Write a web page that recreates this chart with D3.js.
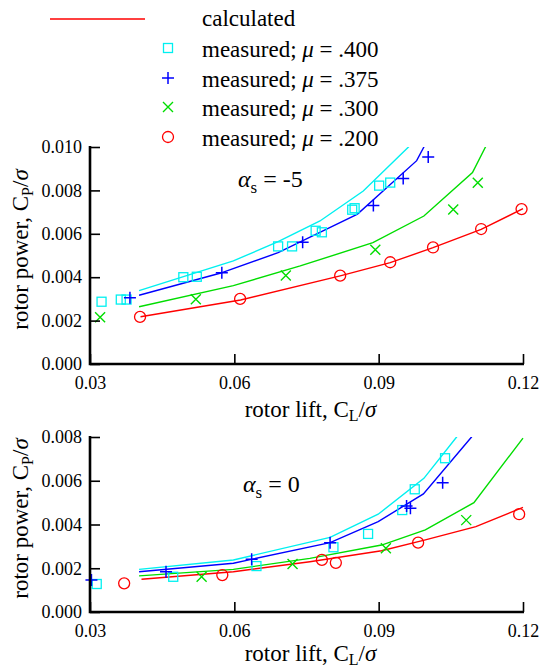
<html>
   <head>
      <meta charset="UTF-8">
      <title>Rotor power vs lift</title>
      <script src="https://d3js.org/d3.v7.min.js"></script>
      <style>
         body{
         margin: 0;
         background: #fff;
         }
         svg{
         display: block;
         font-family: "Liberation Serif", "DejaVu Serif", serif;
         }
      </style>
   </head>
   <body>
      <svg width="542" height="670"></svg>
      <script type="text/javascript">
         // series labels and colours
         var muLabels = [".400", ".375", ".300", ".200"];
         var colors = ["#00f0f0", "#0000ff", "#00dd00", "#ff0000"];
         var shapes = ["square", "plus", "cross", "circle"];

         var xTicks = [0.03, 0.06, 0.09, 0.12];
         var yTicksTop = [0, 0.002, 0.004, 0.006, 0.008, 0.010];
         var yTicksBot = [0, 0.002, 0.004, 0.006, 0.008];

         // alpha_s = -5 : measured
         var top400 = [[0.0324,0.00287],[0.0364,0.00297],[0.0376,0.00297],[0.0494,0.00400],[0.0522,0.00402],
                       [0.0691,0.00542],[0.0720,0.00542],[0.0769,0.00614],[0.0782,0.00607],[0.0845,0.00711],
                       [0.0850,0.00718],[0.0901,0.00822],[0.0924,0.00836]];
         var top375 = [[0.0383,0.00305],[0.0574,0.00420],[0.0742,0.00561],[0.0889,0.00730],[0.0951,0.00855],[0.1003,0.00954]];
         var top300 = [[0.0321,0.00215],[0.0520,0.00298],[0.0707,0.00408],[0.0893,0.00527],[0.1055,0.00712],[0.1106,0.00835]];
         var top200 = [[0.0404,0.00217],[0.0612,0.00300],[0.0820,0.00407],[0.0924,0.00469],[0.1013,0.00537],[0.1113,0.00622],[0.1197,0.00714]];

         // alpha_s = -5 : calculated
         var topCalc400 = [[0.0402,0.00338],[0.0598,0.00475],[0.0691,0.00564],[0.0778,0.00659],[0.0868,0.00797],[0.0962,0.01000],[0.0975,0.01030]];
         var topCalc375 = [[0.0402,0.00317],[0.0570,0.00418],[0.0691,0.00513],[0.0856,0.00691],[0.0979,0.00937],[0.0994,0.01000],[0.1000,0.01030]];
         var topCalc300 = [[0.0402,0.00264],[0.0598,0.00361],[0.0737,0.00452],[0.0888,0.00559],[0.0994,0.00682],[0.1095,0.00882],[0.1122,0.01000],[0.1130,0.01030]];
         var topCalc200 = [[0.0405,0.00218],[0.0613,0.00295],[0.0820,0.00406],[0.0924,0.00467],[0.1013,0.00536],[0.1113,0.00620],[0.1200,0.00716]];

         // alpha_s = 0 : measured
         var bot400 = [[0.0314,0.00128],[0.0473,0.00161],[0.0646,0.00210],[0.0806,0.00296],[0.0878,0.00357],
                       [0.0949,0.00466],[0.0975,0.00561],[0.1038,0.00703]];
         var bot375 = [[0.0303,0.00146],[0.0458,0.00184],[0.0636,0.00241],[0.0799,0.00317],[0.0958,0.00485],[0.0966,0.00474],[0.1033,0.00591]];
         var bot300 = [[0.0532,0.00161],[0.0721,0.00219],[0.0915,0.00291],[0.1082,0.00420]];
         var bot200 = [[0.0371,0.00131],[0.0575,0.00169],[0.0782,0.00238],[0.0811,0.00225],[0.0982,0.00317],[0.1192,0.00447]];

         // alpha_s = 0 : calculated
         var botCalc400 = [[0.0402,0.00195],[0.0598,0.00238],[0.0799,0.00341],[0.0899,0.00447],[0.0994,0.00611],[0.1062,0.00800],[0.1070,0.00825]];
         var botCalc375 = [[0.0402,0.00184],[0.0598,0.00223],[0.0799,0.00317],[0.0899,0.00413],[0.0993,0.00540],[0.1093,0.00800],[0.1100,0.00825]];
         var botCalc300 = [[0.0402,0.00165],[0.0598,0.00195],[0.0757,0.00245],[0.0906,0.00306],[0.0997,0.00375],[0.1098,0.00500],[0.1200,0.00795]];
         var botCalc200 = [[0.0407,0.00150],[0.0598,0.00184],[0.0757,0.00230],[0.0906,0.00280],[0.0997,0.00330],[0.1102,0.00390],[0.1200,0.00478]];

         var svg = d3.select("svg");
         var left = 90, right = 523;

         var xScale = d3.scaleLinear().domain([0.03, 0.12]).range([left, right]);

         var drawMarker = function(g, shape, color, x, y){
           if(shape=="square"){
             g.append("rect").attr("x",x-4.5).attr("y",y-4.5).attr("width",9).attr("height",9)
              .attr("fill","none").attr("stroke",color).attr("stroke-width",1.3);
           }
           else if(shape=="plus"){
             g.append("path").attr("d","M"+(x-6)+","+y+"H"+(x+6)+"M"+x+","+(y-6)+"V"+(y+6))
              .attr("stroke",color).attr("stroke-width",1.5).attr("fill","none");
           }
           else if(shape=="cross"){
             g.append("path").attr("d","M"+(x-5)+","+(y-5)+"L"+(x+5)+","+(y+5)+"M"+(x-5)+","+(y+5)+"L"+(x+5)+","+(y-5))
              .attr("stroke",color).attr("stroke-width",1.4).attr("fill","none");
           }
           else {
             g.append("circle").attr("cx",x).attr("cy",y).attr("r",5.5)
              .attr("fill","none").attr("stroke",color).attr("stroke-width",1.3);
           }
         };

         var drawPanel = function(id, yTop, yBottom, yMax, yTicks, measured, calc, alphaText, alphaPos, xLabelY){
           var yScale = d3.scaleLinear().domain([0, yMax]).range([yBottom, yTop]);

           svg.append("clipPath").attr("id","clip"+id)
              .append("rect").attr("x",left).attr("y",yTop).attr("width",right-left+4).attr("height",yBottom-yTop);

           var line = d3.line()
             .x(function(d){ return xScale(d[0]); })
             .y(function(d){ return yScale(d[1]); });

           var curves = svg.append("g").attr("clip-path","url(#clip"+id+")");
           calc.forEach(function(c,i){
             curves.append("path").attr("d",line(c))
               .attr("fill","none").attr("stroke",colors[i]).attr("stroke-width",1.4);
           });

           var marks = svg.append("g");
           measured.forEach(function(m,i){
             m.forEach(function(d){
               drawMarker(marks, shapes[i], colors[i], xScale(d[0]), yScale(d[1]));
             });
           });

           // axes
           var yAxis = d3.axisLeft(yScale).tickValues(yTicks).tickSize(-10).tickPadding(8)
             .tickFormat(d3.format(".3f"));
           var gy = svg.append("g").attr("transform","translate("+left+",0)").call(yAxis);
           gy.select(".domain").remove();
           gy.selectAll(".tick line").attr("stroke","#000").attr("stroke-width",1.6);
           gy.selectAll("text").attr("font-family","Liberation Serif").attr("font-size",18).attr("fill","#000");

           var xAxis = d3.axisBottom(xScale).tickValues(xTicks).tickSize(-10).tickPadding(12)
             .tickFormat(d3.format(".2f"));
           var gx = svg.append("g").attr("transform","translate(0,"+yBottom+")").call(xAxis);
           gx.select(".domain").remove();
           gx.selectAll(".tick line").attr("stroke","#000").attr("stroke-width",1.6);
           gx.selectAll("text").attr("font-family","Liberation Serif").attr("font-size",18).attr("fill","#000");

           svg.append("path")
             .attr("d","M"+left+","+(yTop-1)+"V"+yBottom+"H"+(right+1))
             .attr("fill","none").attr("stroke","#000").attr("stroke-width",2.6);

           // axis titles
           var yt = svg.append("text")
             .attr("transform","translate(28,"+((yTop+yBottom)/2-6)+") rotate(-90)")
             .attr("text-anchor","middle").attr("font-size",23);
           yt.append("tspan").text("rotor power, C");
           yt.append("tspan").attr("font-size",16).attr("dy",5).text("P");
           yt.append("tspan").attr("dy",-5).text("/");
           yt.append("tspan").attr("font-style","italic").text("σ");

           var xt = svg.append("text")
             .attr("x",(left+right)/2+4).attr("y",xLabelY)
             .attr("text-anchor","middle").attr("font-size",23);
           xt.append("tspan").text("rotor lift, C");
           xt.append("tspan").attr("font-size",16).attr("dy",4).text("L");
           xt.append("tspan").attr("dy",-4).text("/");
           xt.append("tspan").attr("font-style","italic").text("σ");

           var at = svg.append("text").attr("x",alphaPos[0]).attr("y",alphaPos[1]).attr("font-size",24);
           at.append("tspan").attr("font-style","italic").text("α");
           at.append("tspan").attr("font-size",17).attr("dy",6).text("s");
           at.append("tspan").attr("dy",-6).text(" = " + alphaText);
         };

         drawPanel("top", 147, 364, 0.010, yTicksTop,
                   [top400, top375, top300, top200],
                   [topCalc400, topCalc375, topCalc300, topCalc200],
                   "-5", [238,187], 417);

         drawPanel("bot", 437, 612, 0.008, yTicksBot,
                   [bot400, bot375, bot300, bot200],
                   [botCalc400, botCalc375, botCalc300, botCalc200],
                   "0", [243,492], 661);

         // legend
         var legend = svg.append("g").classed("legend",true);
         legend.append("line").attr("x1",50).attr("x2",145).attr("y1",19).attr("y2",19)
           .attr("stroke",colors[3]).attr("stroke-width",1.4);
         legend.append("text").attr("x",202).attr("y",26).attr("font-size",23).text("calculated");

         var legendY = [48, 78, 107, 137];
         muLabels.forEach(function(m,i){
           drawMarker(legend, shapes[i], colors[i], 168, legendY[i]);
           var t = legend.append("text").attr("x",202).attr("y",legendY[i]+9).attr("font-size",23);
           t.append("tspan").text("measured; ");
           t.append("tspan").attr("font-style","italic").text("μ");
           t.append("tspan").text(" = " + m);
         });
      </script>
   </body>
</html>
